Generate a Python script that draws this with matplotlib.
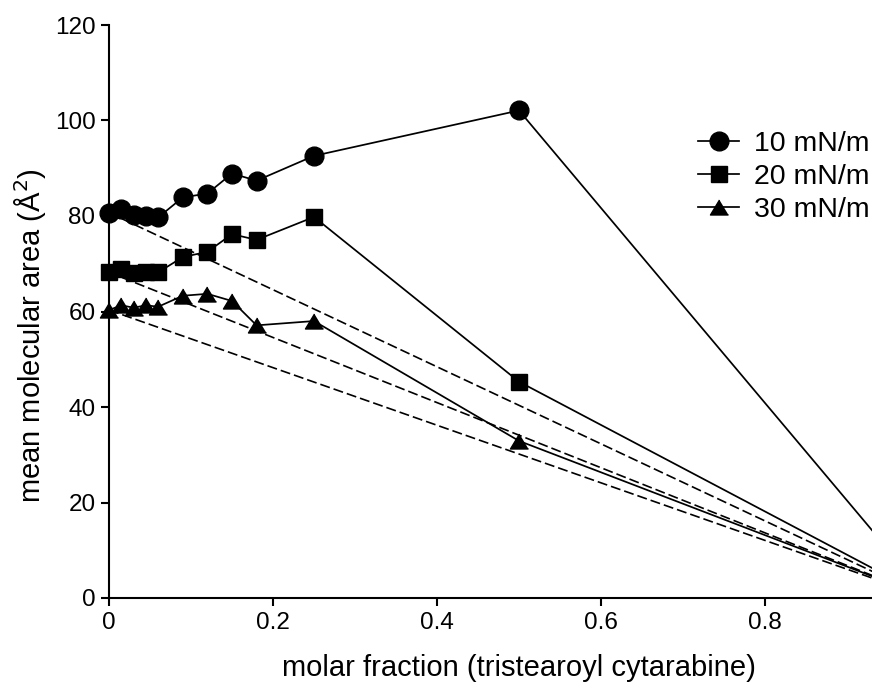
import numpy as np
import matplotlib.pyplot as plt

plt.rcParams['font.family'] = ['Liberation Sans', 'DejaVu Sans']

# molar fraction of tristearoyl cytarabine
frac = [0, 0.015, 0.03, 0.045, 0.06, 0.09, 0.12, 0.15, 0.18, 0.25, 0.5, 1.0]

# mean molecular area (A^2) at each surface pressure
area_10 = [80.7, 81.4, 80.3, 79.9, 79.7, 83.9, 84.7, 88.9, 87.4, 92.6, 102.1, 0.0]
area_20 = [68.2, 68.8, 68.1, 68.3, 68.2, 71.4, 72.5, 76.2, 75.0, 79.8, 45.3, 0.0]
area_30 = [60.3, 61.3, 60.8, 61.3, 61.0, 63.3, 63.7, 62.2, 57.1, 58.0, 32.9, 0.0]

labels = ['10 mN/m', '20 mN/m', '30 mN/m']

tri = [(0, 0.83), (-1, -0.83), (1, -0.83)]
styles = [dict(marker='o', ms=13.5),
          dict(marker='s', ms=12.2),
          dict(marker=tri, ms=13)]

fig = plt.figure(figsize=(8.72, 6.84), dpi=100)
ax = fig.add_axes([109/872, 86/684, 820/872, 573/684])

for ys, lab, st in zip([area_10, area_20, area_30], labels, styles):
    ax.plot(frac, ys, color='black', lw=1.25, mfc='black', mec='black',
            label=lab, clip_on=False, zorder=3, **st)
    # ideal mixing line between the pure components
    ax.plot([frac[0], frac[-1]], [ys[0], ys[-1]], color='black', lw=1.2,
            dashes=(6, 2.4), zorder=2)

ax.set_xlim(0, 1)
ax.set_ylim(0, 120)
ax.set_xticks([0, 0.2, 0.4, 0.6, 0.8])
ax.set_xticklabels(['0', '0.2', '0.4', '0.6', '0.8'])
ax.set_yticks(np.arange(0, 121, 20))

for side in ['top', 'right']:
    ax.spines[side].set_visible(False)
for side in ['left', 'bottom']:
    ax.spines[side].set_linewidth(1.5)
ax.tick_params(direction='out', length=5.8, width=1.5, labelsize=17.5, pad=4)

ax.set_xlabel('molar fraction (tristearoyl cytarabine)', fontsize=21)
ax.set_ylabel('mean molecular area (Å$^2$)', fontsize=21)
ax.xaxis.set_label_coords(0.5, -(668 - 598) / 573)
ax.yaxis.set_label_coords(-(109 - 30) / 820, (598 - 336) / 573)
ax.xaxis.label.set_va('center')
ax.yaxis.label.set_va('center')

ax.legend(loc='upper left', bbox_to_anchor=(698/872, 1 - 131/684),
          bbox_transform=fig.transFigure, frameon=False, fontsize=20.5,
          handlelength=1.45, handletextpad=0.5, labelspacing=0.24,
          borderpad=0, borderaxespad=0)

fig.savefig('out.png', dpi=100)
